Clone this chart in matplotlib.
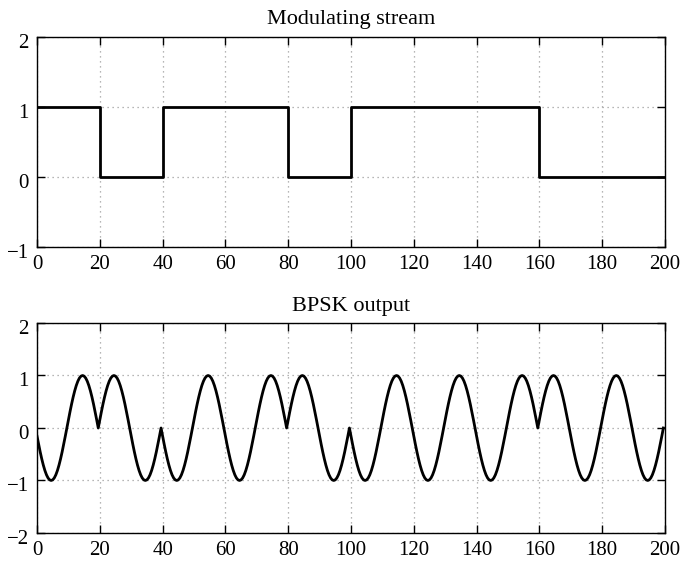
import numpy as np
import matplotlib
matplotlib.use('Agg')
import matplotlib.pyplot as plt
from matplotlib.transforms import ScaledTranslation

# bit stream, one bit per 20 samples
bits = [1, 0, 1, 1, 0, 1, 1, 1, 0, 0]
bit_len = 20
carrier_period = 20
xticks = list(range(0, 201, 20))

plt.rcParams['font.family'] = ['Liberation Serif', 'DejaVu Serif']
plt.rcParams['font.size'] = 15


def style_ax(ax, ylim, yticks):
    ax.set_xlim(0, 200)
    ax.set_ylim(*ylim)
    ax.set_xticks(xticks)
    ax.set_yticks(yticks)
    ax.tick_params(direction='in', top=True, right=True, length=6, width=1,
                   labelsize=15)
    ax.tick_params(axis='x', pad=6)
    ax.tick_params(axis='y', pad=6)
    ax.grid(True, color='0.62', linestyle=(0, (1, 3)), linewidth=0.9)
    for sp in ax.spines.values():
        sp.set_linewidth(1.0)
    # y labels sit a little low, like the original
    off = ScaledTranslation(0, -4 / 100, fig.dpi_scale_trans)
    for lab in ax.get_yticklabels():
        lab.set_transform(lab.get_transform() + off)


fig = plt.figure(figsize=(6.82, 5.64), dpi=100)
ax1 = fig.add_axes([0.0543, 0.562, 0.9207, 0.3724])
ax2 = fig.add_axes([0.0543, 0.055, 0.9207, 0.3723])

# modulating stream as steps
edges = np.arange(len(bits) + 1) * bit_len
levels = bits + [bits[-1]]
ax1.step(edges, levels, where='post', color='k', linewidth=2)
style_ax(ax1, (-1, 2), [-1, 0, 1, 2])
ax1.set_title('Modulating stream', fontsize=16, pad=9)

# bpsk: carrier phase flipped by the bit value
t = np.arange(1, len(bits) * bit_len * 2 + 1) * 0.5
b = np.array(bits)[np.minimum((np.ceil(t / bit_len) - 1).astype(int), len(bits) - 1)]
y = (1 - 2 * b) * np.sin(2 * np.pi * t / carrier_period)
ax2.plot(t - 0.5, y, color='k', linewidth=2)
style_ax(ax2, (-2, 2), [-2, -1, 0, 1, 2])
ax2.set_title('BPSK output', fontsize=16, pad=9)

fig.savefig('out.png', dpi=100)
